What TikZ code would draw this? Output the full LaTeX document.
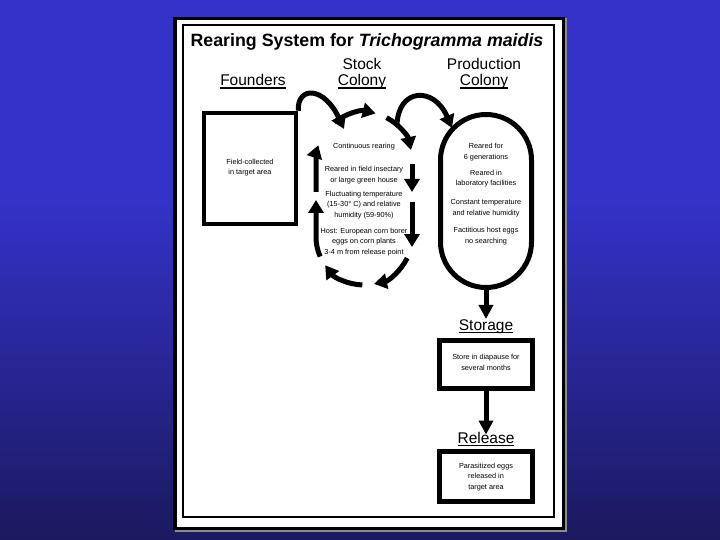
\documentclass[tikz,border=0pt]{standalone}
\usepackage{fontspec}
\setmainfont{Liberation Sans}
\usetikzlibrary{arrows.meta,calc}
\definecolor{bgtop}{RGB}{52,50,200}
\definecolor{bgbot}{RGB}{27,25,94}
\newsavebox\ulbox
\newcommand\ulin[1]{\sbox\ulbox{#1}\rlap{\rule[-2.9pt]{\wd\ulbox}{1.4pt}}\usebox\ulbox}
\begin{document}
\begin{tikzpicture}[x=1pt,y=-1pt,
  heading/.style={font=\fontsize{15.5}{17}\selectfont, inner sep=0, anchor=base},
  small/.style={font=\fontsize{7.3}{10.5}\selectfont, align=center, inner sep=0},
  loopar/.style={line width=5pt, -{Triangle[length=13pt,width=15pt]}},
  downar/.style={line width=5pt, -{Triangle[length=14pt,width=14pt]}},
  heavybox/.style={draw, line width=5pt, inner sep=0, fill=white}]
\useasboundingbox (0,0) rectangle (720,540);
% background
\fill[bgtop] (0,0) rectangle (720,201);
\shade[top color=bgtop, bottom color=bgbot] (0,200) rectangle (720,540);
% panel
\fill[black!45] (174.5,18.5) rectangle (566.5,531.5);
\fill[white] (173,17) rectangle (565,530);
\draw[line width=3.5pt] (174.75,18.75) rectangle (563.25,528.25);
\draw[line width=1.1pt] (183,25) rectangle (554,517);
% title and headings
\node[inner sep=0, anchor=base, font=\fontsize{17.8}{19}\selectfont\bfseries] (title) at (367,47)
  {Rearing System for \textit{Trichogramma maidis}};
\node[heading] (hfound) at (253,86) {\ulin{Founders}};
\node[heading] (hstock1) at (362,70) {Stock};
\node[heading] (hstock2) at (362,86) {\ulin{Colony}};
\node[heading] (hprod1) at (484,70) {Production};
\node[heading] (hprod2) at (484,86) {\ulin{Colony}};
% founders box
\node[heavybox, line width=4.5pt, minimum width=92pt, minimum height=111pt] (founders) at (250,168.5) {};
\node[small] (ftext) at (250,167.5) {Field-collected\\in target area};
% production colony
\node[draw, line width=5pt, minimum width=91pt, minimum height=173pt, rounded corners=45.5pt, inner sep=0] (prod) at (486,201) {};
\node[small] (p1) at (486,152) {Reared for\\6 generations};
\node[small] (p2) at (486,178.5) {Reared in\\laboratory facilities};
\node[small] (p3) at (486,208) {Constant temperature\\and relative humidity};
\node[small] (p4) at (486,236) {Factitious host eggs\\no searching};
% stock colony loop
\coordinate (T) at (364,160);
\coordinate (B) at (364,237);
\draw[loopar] ($(T)+(-128:48)$) arc[start angle=-128,end angle=-76,radius=48];
\draw[loopar] ($(T)+(-62:48)$) arc[start angle=-62,end angle=-12,radius=48];
\draw[loopar] (412,164) -- (412,192);
\draw[loopar] (412,202) -- (412,247);
\draw[loopar] ($(B)+(26:48)$) arc[start angle=26,end angle=78,radius=48];
\draw[loopar] ($(B)+(92:48)$) arc[start angle=92,end angle=144,radius=48];
\draw[loopar] ($(B)+(156:48)$) arc[start angle=156,end angle=180,radius=48] -- (316,200);
\draw[loopar] (316,192) -- (316,160) arc[start angle=180,end angle=198,radius=48];
\node[small] (s1) at (364,147) {Continuous rearing};
\node[small] (s2) at (364,175) {Reared in field insectary\\or large green house};
\node[small] (s3) at (364,205) {Fluctuating temperature\\(15-30° C) and relative\\humidity (59-90\%)};
\node[small] (s4) at (364,242) {Host: European corn borer\\eggs on corn plants\\3-4 m from release point};
% connectors founders -> stock -> production
\coordinate (stockin) at (344,129);
\coordinate (stockout) at (397,125);
\coordinate (prodin) at (452,128);
\draw[loopar] (founders.north east) .. controls (297,86) and (324,86) .. (stockin);
\draw[loopar] (stockout) .. controls (398,88) and (434,86) .. (prodin);
% storage
\node[heading] (hstor) at (486,330) {\ulin{Storage}};
\node[heavybox, minimum width=93pt, minimum height=48pt] (storage) at (486,364.5) {};
\node[small] (sttext) at (486,362.5) {Store in diapause for\\several months};
\draw[downar] (prod.south) -- (hstor.north);
% release
\node[heading] (hrel) at (486,443) {\ulin{Release}};
\node[heavybox, minimum width=93pt, minimum height=50pt] (release) at (486,476.5) {};
\node[small] (rtext) at (486,477) {Parasitized eggs\\released in\\target area};
\draw[downar, shorten >=-3pt] (storage.south) -- (hrel.north);
\end{tikzpicture}
\end{document}
